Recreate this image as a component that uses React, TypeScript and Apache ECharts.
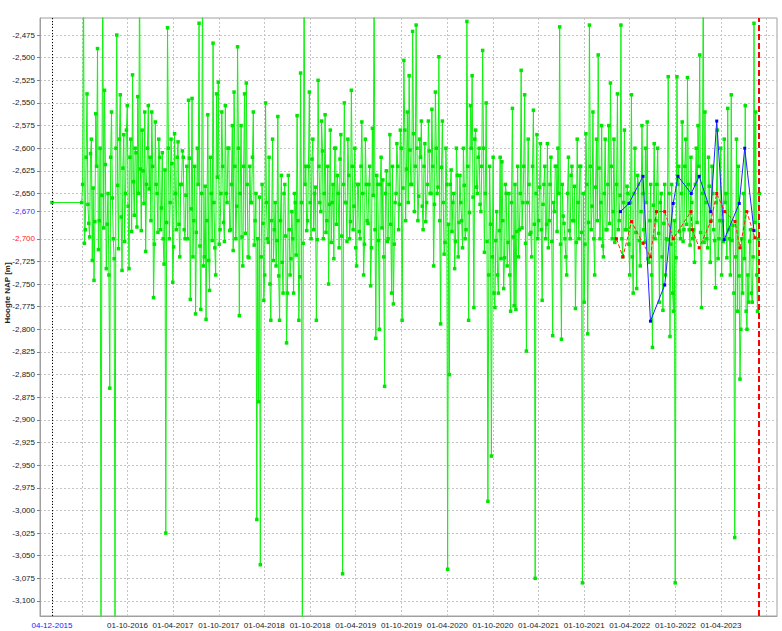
import React, { useEffect, useRef } from 'react';
import * as echarts from 'echarts';

// ---- data ----
const firstDate = '2015-12-04';
const firstValue = -2.66;
const weeklyStart = '2016-04-01';
const weeklyStepDays = 7;
// readings at the start of each week (from 2016-04-01)
const greenValues = [
  -2.660, -2.40, -2.690, -2.540, -2.683, -2.606, -2.724, -2.746, -2.562, -2.490,
  -2.680, -3.15, -2.40, -2.536, -2.733, -2.650, -2.865, -2.560, -2.700, -3.15,
  -2.475, -2.711, -2.541, -2.735, -2.585, -2.650, -2.553, -2.733, -2.590, -2.519,
  -2.674, -2.605, -2.543, -2.40, -2.691, -2.625, -2.560, -2.640, -2.553, -2.610,
  -2.560, -2.765, -2.571, -2.650, -2.590, -2.690, -2.605, -2.728, -3.025, -2.467,
  -2.700, -2.590, -2.748, -2.584, -2.690, -2.593, -2.720, -2.640, -2.610, -2.700,
  -2.620, -2.547, -2.767, -2.545, -2.680, -2.783, -2.600, -2.462, -2.778, -2.40,
  -2.720, -2.789, -2.563, -2.757, -2.650, -2.484, -2.710, -2.540, -2.527, -2.690,
  -2.560, -2.682, -2.553, -2.660, -2.600, -2.690, -2.575, -2.538, -2.700, -2.488,
  -2.785, -2.575, -2.730, -2.540, -2.528, -2.720, -2.620, -2.660, -2.560, -2.680,
  -3.010, -2.880, -3.060, -2.640, -2.768, -2.550, -2.700, -2.610, -2.790, -2.590,
  -2.690, -2.730, -2.565, -2.790, -2.630, -2.760, -2.640, -2.815, -2.630, -2.740,
  -2.670, -2.760, -2.660, -2.564, -2.790, -2.517, -3.15, -2.40, -2.620, -2.680,
  -2.538, -2.700, -2.590, -2.650, -2.790, -2.525, -2.660, -2.570, -2.700, -2.563,
  -2.680, -2.750, -2.580, -2.660, -2.722, -2.600, -2.630, -2.710, -2.585, -3.070,
  -2.550, -2.660, -2.590, -2.700, -2.536, -2.690, -2.600, -2.730, -2.640, -2.700,
  -2.571, -2.740, -2.590, -2.680, -2.640, -2.752, -2.578, -2.40, -2.810, -2.640,
  -2.800, -2.610, -2.635, -2.863, -2.625, -2.700, -2.585, -2.760, -2.772, -2.660,
  -2.595, -2.690, -2.580, -2.790, -2.503, -2.680, -2.560, -2.520, -2.640, -2.471,
  -2.670, -2.464, -2.680, -2.590, -2.570, -2.690, -2.595, -2.660, -2.570, -2.650,
  -2.557, -2.730, -2.538, -2.650, -2.499, -2.794, -2.570, -2.717, -2.600, -3.065,
  -2.850, -2.624, -2.660, -2.733, -2.600, -2.720, -2.630, -2.680, -2.600, -2.700,
  -2.460, -2.790, -2.553, -2.520, -2.776, -2.580, -2.650, -2.600, -2.670, -2.492,
  -2.715, -2.550, -2.990, -2.620, -2.940, -2.610, -2.776, -2.670, -2.760, -2.610,
  -2.615, -2.755, -2.640, -2.730, -2.650, -2.780, -2.556, -2.774, -2.778, -2.620,
  -2.690, -2.514, -2.660, -2.541, -2.824, -2.590, -2.695, -2.720, -2.558, -3.075,
  -2.585, -2.680, -2.595, -2.768, -2.640, -2.700, -2.595, -2.680, -2.610, -2.807,
  -2.670, -2.620, -2.600, -2.466, -2.811, -2.675, -2.700, -2.740, -2.610, -2.700,
  -2.620, -2.680, -2.777, -2.590, -2.700, -2.620, -3.080, -2.770, -2.584, -2.805,
  -2.464, -2.690, -2.560, -2.740, -2.590, -2.497, -2.700, -2.575, -2.720, -2.590,
  -2.690, -2.575, -2.528, -2.700, -2.590, -2.700, -2.540, -2.680, -2.464, -2.720,
  -2.580, -2.690, -2.650, -2.740, -2.541, -2.760, -2.600, -2.755, -2.640, -2.730,
  -2.575, -2.690, -2.600, -2.571, -2.726, -2.640, -2.820, -2.595, -2.680, -2.600,
  -2.770, -2.650, -2.779, -2.640, -2.700, -2.521, -2.808, -2.640, -2.780, -3.080,
  -2.521, -2.620, -2.700, -2.571, -2.690, -2.590, -2.522, -2.690, -2.610, -2.700,
  -2.726, -2.600, -2.575, -2.497, -2.776, -2.40, -2.560, -2.700, -2.610, -2.726,
  -2.620, -2.690, -2.754, -2.580, -2.700, -2.600, -2.680, -2.590, -2.650, -2.556,
  -2.700, -2.541, -2.685, -3.030, -2.590, -2.620, -2.855, -2.700, -2.650, -2.553,
  -2.800, -2.770, -2.690, -2.770, -2.462, -2.560, -2.780, -2.650,
];
// readings half-way through each week
const greenMidValues = [
  -2.640, -2.705, -2.610, -2.662, -2.698, -2.590, -2.644, -2.681, -2.620, -2.712,
  -2.600, -2.652, -2.688, -2.618, -2.684, -2.740, -2.610, -2.655, -2.722, -2.600,
  -2.641, -2.590, -2.676, -2.622, -2.703, -2.580, -2.664, -2.610, -2.692, -2.637,
  -2.600, -2.687, -2.650, -2.623, -2.580, -2.661, -2.714, -2.600, -2.645, -2.680,
  -2.620, -2.706, -2.640, -2.693, -2.610, -2.666, -2.700, -2.624, -2.682, -2.600,
  -2.660, -2.617, -2.709, -2.650, -2.610, -2.684, -2.640, -2.603, -2.690, -2.652,
  -2.700, -2.611, -2.667, -2.720, -2.620, -2.693, -2.640, -2.708, -2.650, -2.730,
  -2.642, -2.680, -2.724, -2.610, -2.702, -2.660, -2.740, -2.632, -2.706, -2.650,
  -2.620, -2.703, -2.650, -2.600, -2.691, -2.640, -2.713, -2.620, -2.664, -2.600,
  -2.650, -2.698, -2.620, -2.694, -2.640, -2.721, -2.660, -2.610, -2.707, -2.650,
  -2.700, -2.654, -2.720, -2.683, -2.740, -2.660, -2.704, -2.750, -2.680, -2.724,
  -2.660, -2.702, -2.741, -2.680, -2.726, -2.650, -2.697, -2.760, -2.690, -2.722,
  -2.700, -2.650, -2.718, -2.680, -2.742, -2.660, -2.705, -2.640, -2.691, -2.620,
  -2.660, -2.612, -2.690, -2.643, -2.701, -2.620, -2.670, -2.603, -2.650, -2.693,
  -2.620, -2.662, -2.704, -2.640, -2.600, -2.684, -2.650, -2.612, -2.697, -2.640,
  -2.660, -2.703, -2.630, -2.681, -2.620, -2.664, -2.710, -2.640, -2.692, -2.620,
  -2.650, -2.706, -2.640, -2.683, -2.620, -2.710, -2.652, -2.690, -2.630, -2.702,
  -2.640, -2.688, -2.720, -2.650, -2.703, -2.640, -2.684, -2.620, -2.706, -2.650,
  -2.620, -2.662, -2.600, -2.644, -2.580, -2.623, -2.660, -2.602, -2.640, -2.584,
  -2.620, -2.600, -2.653, -2.610, -2.664, -2.620, -2.681, -2.640, -2.603, -2.650,
  -2.620, -2.662, -2.600, -2.643, -2.680, -2.621, -2.660, -2.704, -2.640, -2.684,
  -2.640, -2.692, -2.650, -2.703, -2.630, -2.682, -2.660, -2.710, -2.641, -2.690,
  -2.620, -2.671, -2.600, -2.654, -2.590, -2.643, -2.610, -2.662, -2.620, -2.600,
  -2.650, -2.703, -2.740, -2.684, -2.720, -2.760, -2.702, -2.740, -2.691, -2.722,
  -2.680, -2.721, -2.650, -2.704, -2.740, -2.660, -2.698, -2.640, -2.692, -2.720,
  -2.650, -2.688, -2.620, -2.705, -2.660, -2.640, -2.693, -2.620, -2.684, -2.650,
  -2.700, -2.643, -2.690, -2.662, -2.620, -2.684, -2.710, -2.640, -2.703, -2.660,
  -2.620, -2.692, -2.650, -2.706, -2.640, -2.683, -2.720, -2.650, -2.691, -2.630,
  -2.680, -2.642, -2.704, -2.660, -2.620, -2.693, -2.650, -2.706, -2.640, -2.682,
  -2.620, -2.664, -2.700, -2.643, -2.680, -2.622, -2.660, -2.708, -2.650, -2.690,
  -2.640, -2.683, -2.620, -2.670, -2.704, -2.640, -2.690, -2.652, -2.700, -2.660,
  -2.690, -2.642, -2.706, -2.660, -2.720, -2.650, -2.693, -2.630, -2.702, -2.670,
  -2.650, -2.704, -2.660, -2.722, -2.680, -2.740, -2.663, -2.700, -2.640, -2.694,
  -2.660, -2.720, -2.683, -2.740, -2.701, -2.650, -2.706, -2.760, -2.680, -2.721,
  -2.640, -2.692, -2.650, -2.703, -2.620, -2.684, -2.640, -2.707, -2.660, -2.690,
  -2.640, -2.682, -2.620, -2.693, -2.650, -2.704, -2.660, -2.710, -2.642, -2.680,
  -2.650, -2.702, -2.660, -2.722, -2.680, -2.740, -2.703, -2.660, -2.721, -2.690,
  -2.740, -2.702, -2.760, -2.720, -2.780, -2.741, -2.800, -2.760, -2.722, -2.780,
  -2.740, -2.703, -2.760, -2.720, -2.682, -2.740, -2.700,
];

const blueDates = ['2022-02-23', '2022-03-29', '2022-05-24', '2022-06-23', '2022-08-19', '2022-09-22', '2022-10-11', '2022-12-03', '2023-01-04', '2023-02-19', '2023-03-15', '2023-04-14', '2023-06-13', '2023-07-05', '2023-08-11'];
const blueValues = [-2.670, -2.661, -2.631, -2.791, -2.751, -2.661, -2.631, -2.650, -2.631, -2.670, -2.570, -2.701, -2.661, -2.600, -2.691];

const redDates = ['2022-02-07', '2022-03-05', '2022-04-08', '2022-05-24', '2022-06-23', '2022-07-17', '2022-08-19', '2022-09-22', '2022-12-02', '2022-12-07', '2023-01-04', '2023-02-19', '2023-03-15', '2023-04-16', '2023-05-27', '2023-06-16', '2023-07-13', '2023-08-15'];
const redValues = [-2.700, -2.720, -2.681, -2.705, -2.720, -2.670, -2.670, -2.700, -2.670, -2.690, -2.710, -2.681, -2.650, -2.670, -2.681, -2.710, -2.670, -2.699];

const yTickValues = [
  -2.475, -2.5, -2.525, -2.55, -2.575, -2.6, -2.625, -2.65, -2.67, -2.7, -2.725, -2.75,
  -2.775, -2.8, -2.825, -2.85, -2.875, -2.9, -2.925, -2.95, -2.975, -3.0, -3.025, -3.05,
  -3.075, -3.1,
];
const blueLevel = -2.67;
const redLevel = -2.7;

const xLabelDates = ['2015-12-04', '2016-10-01', '2017-04-01', '2017-10-01', '2018-04-01', '2018-10-01', '2019-04-01', '2019-10-01', '2020-04-01', '2020-10-01', '2021-04-01', '2021-10-01', '2022-04-01', '2022-10-01', '2023-04-01'];
const xExtraGridDates = ['2016-04-01', '2023-10-01'];
const referenceDate = '2015-12-04';
const todayDate = '2023-08-31';
const xMinDate = '2015-10-17';
const xMaxDate = '2023-11-11';
const yMin = -3.1166;
const yMax = -2.4562;

// ---- helpers ----
function ts(s: string): number {
  const [y, m, d] = s.split('-').map(Number);
  return Date.UTC(y, m - 1, d);
}
function pad(n: number) {
  return n < 10 ? '0' + n : '' + n;
}
function fmtDate(v: number): string {
  const d = new Date(v);
  return pad(d.getUTCDate()) + '-' + pad(d.getUTCMonth() + 1) + '-' + d.getUTCFullYear();
}
function near(a: number, b: number) {
  return Math.abs(a - b) < 1e-6;
}

const DAY = 86400000;

export default function App() {
  const ref = useRef<HTMLDivElement>(null);
  useEffect(() => {
    if (!ref.current) return;
    const chart = echarts.init(ref.current, undefined, { renderer: 'svg' });
    const font = 'Liberation Sans';
    const w0 = ts(weeklyStart);
    const greenData: [number, number][] = [[ts(firstDate), firstValue]];
    greenValues.forEach((v, i) => {
      const t = w0 + i * weeklyStepDays * DAY;
      greenData.push([t, v]);
      if (i < greenMidValues.length) greenData.push([t + (weeklyStepDays / 2) * DAY, greenMidValues[i]]);
    });
    const blueData = blueDates.map((d, i) => [ts(d), blueValues[i]]);
    const redData = redDates.map((d, i) => [ts(d), redValues[i]]);
    const xGrid = [...xLabelDates, ...xExtraGridDates].map(ts).sort((a, b) => a - b);
    const refTs = ts(referenceDate);

    chart.setOption({
      animation: false,
      grid: {
        left: 40,
        right: 5,
        top: 18,
        bottom: 15,
        show: true,
        borderColor: '#a0a0a0',
        borderWidth: 1,
        backgroundColor: '#ffffff',
      },
      xAxis: {
        type: 'value',
        min: ts(xMinDate),
        max: ts(xMaxDate),
        axisLine: { show: true, lineStyle: { color: '#a0a0a0' } },
        axisTick: { show: false, customValues: xGrid },
        splitLine: { show: true, lineStyle: { color: '#c4c4c4', type: [2, 2], width: 1 } },
        axisLabel: {
          customValues: xLabelDates.map(ts),
          formatter: (v: number) => fmtDate(v),
          fontFamily: font,
          fontSize: 8,
          margin: 5,
          showMinLabel: true,
          showMaxLabel: true,
          color: (v: any) => (Math.abs(Number(v) - refTs) < 1000 ? '#2020ff' : '#222222'),
        },
      },
      yAxis: {
        type: 'value',
        min: yMin,
        max: yMax,
        axisLine: { show: true, lineStyle: { color: '#a0a0a0' } },
        axisTick: { show: true, length: 3, customValues: yTickValues, lineStyle: { color: '#808080' } },
        splitLine: { show: true, lineStyle: { color: '#c4c4c4', type: [2, 2], width: 1 } },
        axisLabel: {
          customValues: yTickValues,
          formatter: (v: number) => v.toFixed(3).replace('.', ','),
          fontFamily: font,
          fontSize: 8,
          margin: 5,
          color: (v: any) => {
            const n = parseFloat(v);
            if (near(n, blueLevel)) return '#3030ff';
            if (near(n, redLevel)) return '#ff2020';
            return '#222222';
          },
        },
      },
      graphic: [
        {
          type: 'text',
          x: 7,
          y: 293,
          rotation: Math.PI / 2,
          style: {
            text: 'Hoogte NAP [m]',
            fontFamily: font,
            fontSize: 8,
            fontWeight: 'bold',
            fill: '#222222',
            align: 'center',
            verticalAlign: 'middle',
          },
        },
      ],
      series: [
        {
          type: 'line',
          name: 'green',
          data: greenData,
          symbol: 'rect',
          symbolSize: 3.5,
          showAllSymbol: true,
          lineStyle: { color: '#14f014', width: 1 },
          itemStyle: { color: '#00e600' },
          z: 2,
          markLine: {
            silent: true,
            symbol: ['none', 'none'],
            label: { show: false },
            data: [
              { xAxis: refTs, lineStyle: { color: '#000000', type: [1, 2], width: 1 } },
              { xAxis: ts(todayDate), lineStyle: { color: '#ff0000', type: [6, 3], width: 2 } },
            ],
          },
        },
        {
          type: 'line',
          name: 'blue',
          data: blueData,
          symbol: 'rect',
          symbolSize: 3,
          lineStyle: { color: '#2020ff', width: 1 },
          itemStyle: { color: '#0000ff' },
          z: 3,
        },
        {
          type: 'line',
          name: 'red',
          data: redData,
          symbol: 'rect',
          symbolSize: 3,
          lineStyle: { color: '#ff2020', width: 1, type: [4, 2] },
          itemStyle: { color: '#ff0000' },
          z: 3,
        },
      ],
    });
    return () => chart.dispose();
  }, []);
  return (
    <div
      ref={ref}
      style={{ position: 'fixed', left: 0, top: 0, width: 782, height: 631, background: '#ffffff' }}
    />
  );
}
